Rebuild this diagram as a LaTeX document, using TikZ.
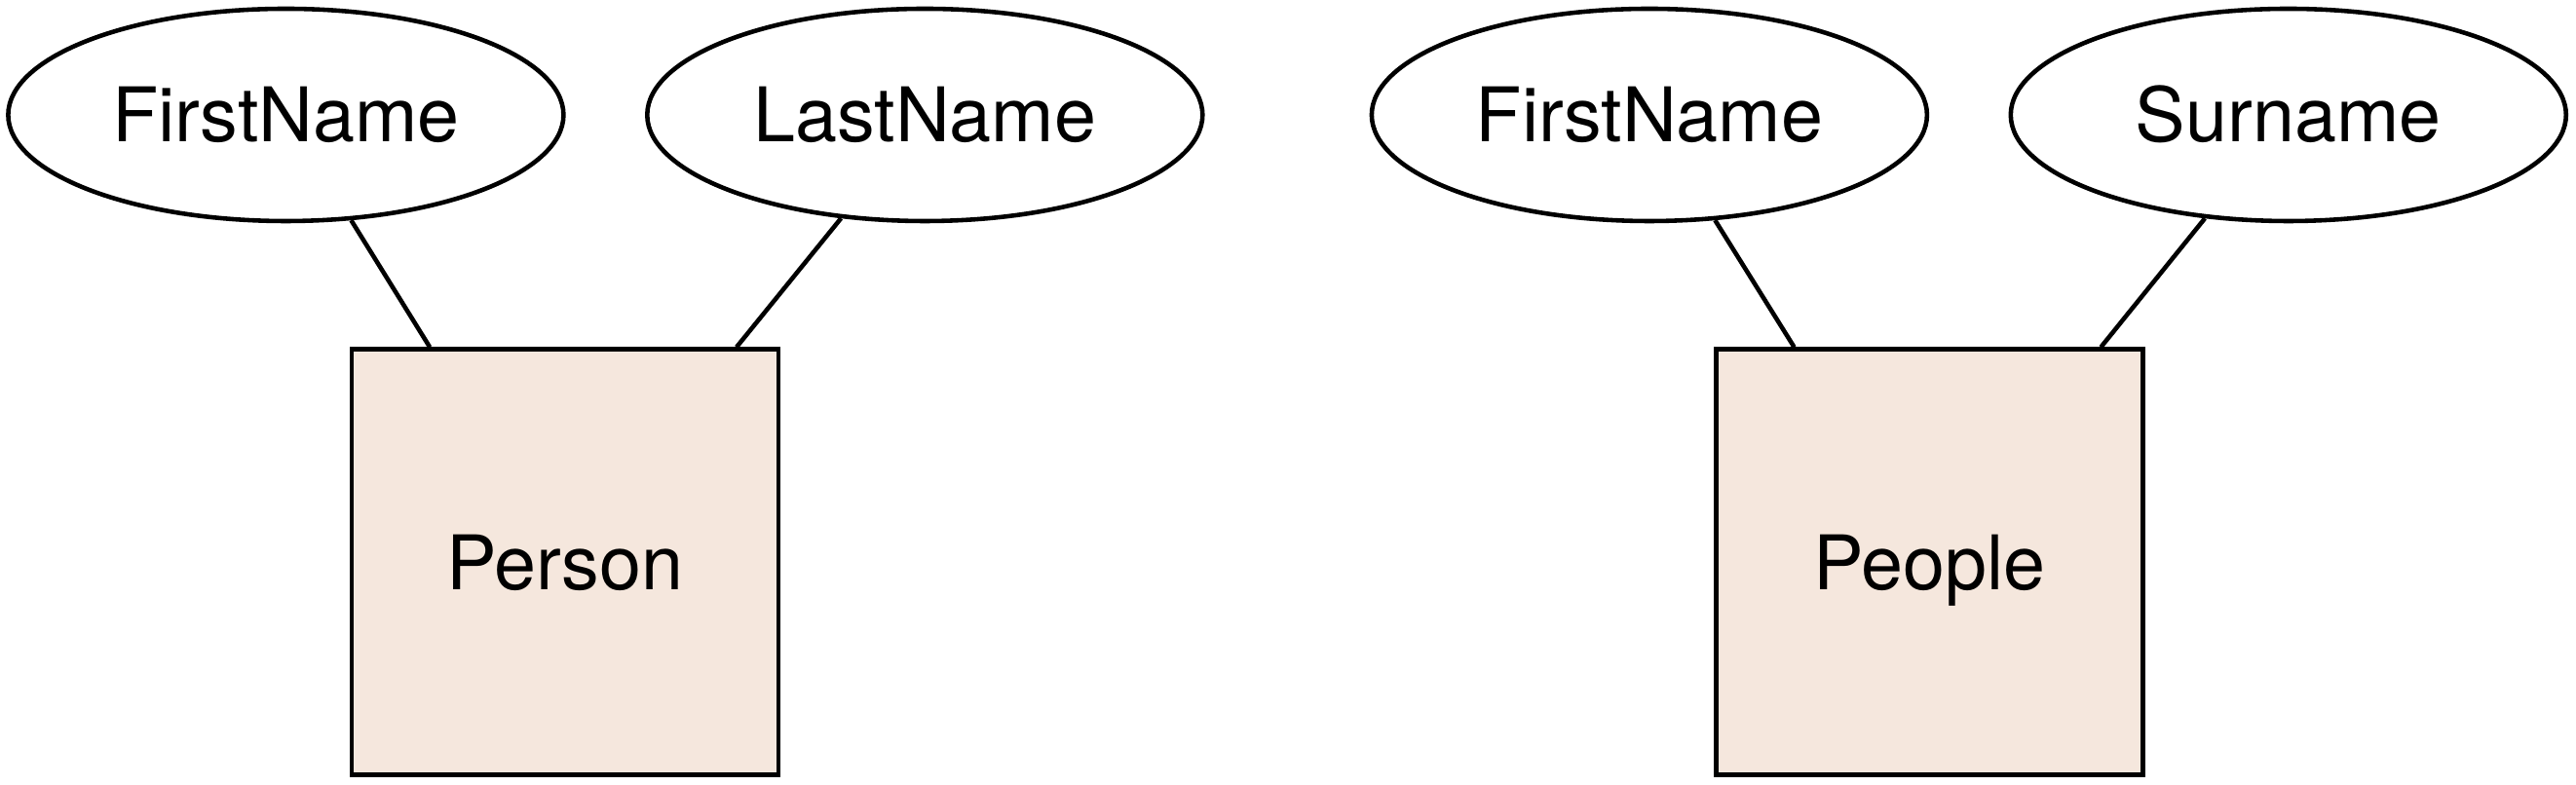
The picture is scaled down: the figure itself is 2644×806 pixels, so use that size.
\documentclass[tikz,border=0pt]{standalone}
\usepackage{fontspec}
\setmainfont{TeX Gyre Heros}
\usetikzlibrary{shapes.geometric}
\definecolor{entfill}{HTML}{F5E7DD}
\begin{document}
\begin{tikzpicture}[x=0.1mm,y=-0.1mm,
  attr/.style={ellipse,draw,line width=1.3pt,minimum width=57mm,minimum height=21.8mm,inner sep=0pt,text height=15.8pt,text depth=0pt,font=\fontsize{22}{26}\selectfont},
  entity/.style={rectangle,draw,line width=1.4pt,fill=entfill,minimum width=43.8mm,minimum height=43.7mm,inner sep=0pt,text height=15.8pt,text depth=0pt,font=\fontsize{22}{26}\selectfont},
  link/.style={line width=1.3pt}]
\useasboundingbox (0,0) rectangle (2644,806);
\node[attr] (fn1) at (293.4,118) {FirstName};
\node[attr] (ln1) at (949.3,118) {LastName};
\node[attr] (fn2) at (1692.9,118) {FirstName};
\node[attr] (sn2) at (2348.8,118) {Surname};
\node[entity] (person) at (580,577.4) {Person};
\node[entity] (people) at (1980.4,577.4) {People};
\coordinate (p1) at ([xshift=8.26mm]person.north west);
\coordinate (p2) at ([xshift=-4.55mm]person.north east);
\coordinate (q1) at ([xshift=8.26mm]people.north west);
\coordinate (q2) at ([xshift=-4.55mm]people.north east);
\draw[link] (fn1) -- (p1);
\draw[link] (ln1) -- (p2);
\draw[link] (fn2) -- (q1);
\draw[link] (sn2) -- (q2);
\end{tikzpicture}
\end{document}
